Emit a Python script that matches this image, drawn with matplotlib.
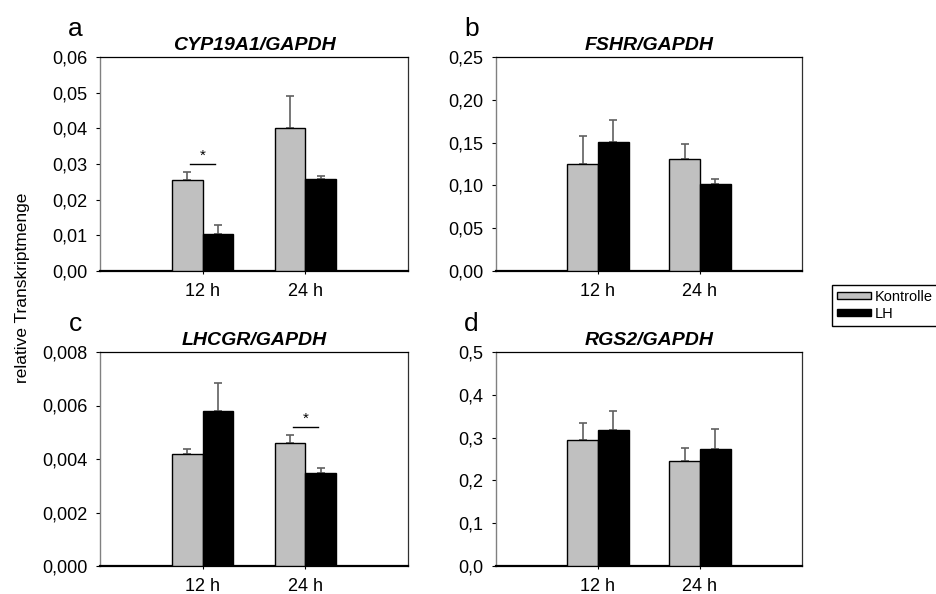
import matplotlib
matplotlib.use("Agg")
import matplotlib.pyplot as plt
import numpy as np
from matplotlib.patches import Patch

plt.rcParams["font.family"] = ["Liberation Sans", "DejaVu Sans"]

# data (means and upper error)
groups = ["12 h", "24 h"]
series = ["Kontrolle", "LH"]

cyp_ctrl = [0.0255, 0.0400]
cyp_ctrl_err = [0.0023, 0.0090]
cyp_lh = [0.0103, 0.0258]
cyp_lh_err = [0.0027, 0.0008]

fshr_ctrl = [0.125, 0.131]
fshr_ctrl_err = [0.033, 0.017]
fshr_lh = [0.151, 0.102]
fshr_lh_err = [0.025, 0.006]

lhcgr_ctrl = [0.00417, 0.00459]
lhcgr_ctrl_err = [0.00021, 0.00031]
lhcgr_lh = [0.00580, 0.00346]
lhcgr_lh_err = [0.00103, 0.00021]

rgs_ctrl = [0.294, 0.246]
rgs_ctrl_err = [0.040, 0.030]
rgs_lh = [0.318, 0.274]
rgs_lh_err = [0.043, 0.046]

panels = [
    ("a", "CYP19A1/GAPDH", cyp_ctrl, cyp_ctrl_err, cyp_lh, cyp_lh_err,
     [0.0, 0.01, 0.02, 0.03, 0.04, 0.05, 0.06],
     ["0,00", "0,01", "0,02", "0,03", "0,04", "0,05", "0,06"], (0, 0.0299)),
    ("b", "FSHR/GAPDH", fshr_ctrl, fshr_ctrl_err, fshr_lh, fshr_lh_err,
     [0.0, 0.05, 0.10, 0.15, 0.20, 0.25],
     ["0,00", "0,05", "0,10", "0,15", "0,20", "0,25"], None),
    ("c", "LHCGR/GAPDH", lhcgr_ctrl, lhcgr_ctrl_err, lhcgr_lh, lhcgr_lh_err,
     [0.0, 0.002, 0.004, 0.006, 0.008],
     ["0,000", "0,002", "0,004", "0,006", "0,008"], (1, 0.00518)),
    ("d", "RGS2/GAPDH", rgs_ctrl, rgs_ctrl_err, rgs_lh, rgs_lh_err,
     [0.0, 0.1, 0.2, 0.3, 0.4, 0.5],
     ["0,0", "0,1", "0,2", "0,3", "0,4", "0,5"], None),
]

W, H = 936, 594
fig = plt.figure(figsize=(W / 100, H / 100), dpi=100)

# axes boxes in pixels: left, top, width, height
boxes = [(100, 57, 308, 214), (496, 57, 306, 214),
         (100, 352, 308, 214), (496, 352, 306, 214)]

GREY = "#c0c0c0"
ERR = "#606060"
bw = 0.3
x = np.arange(1, len(groups) + 1)

for (letter, title, c, ce, l, le, ticks, tlabels, sig), (px, py, pw, ph) in zip(panels, boxes):
    ax = fig.add_axes([px / W, 1 - (py + ph) / H, pw / W, ph / H])
    ax.bar(x - bw / 2, c, bw, color=GREY, edgecolor="black", lw=1, zorder=3)
    ax.bar(x + bw / 2, l, bw, color="black", edgecolor="black", lw=1, zorder=3)
    ax.errorbar(x - bw / 2, c, yerr=[np.zeros(len(c)), ce], fmt="none",
                ecolor=ERR, elinewidth=1.2, capsize=3, capthick=1.2, zorder=2)
    ax.errorbar(x + bw / 2, l, yerr=[np.zeros(len(l)), le], fmt="none",
                ecolor=ERR, elinewidth=1.2, capsize=3, capthick=1.2, zorder=2)

    ax.set_xlim(0, 3)
    ax.set_ylim(ticks[0], ticks[-1])
    ax.set_yticks(ticks)
    ax.set_yticklabels(tlabels)
    ax.set_xticks(x)
    ax.set_xticklabels(groups)
    ax.tick_params(axis="y", length=3, width=0.8, pad=6, labelsize=13)
    ax.tick_params(axis="x", length=2.5, width=0.8, pad=6, labelsize=13)

    ax.spines["left"].set_color("#808080")
    ax.spines["left"].set_linewidth(1.0)
    ax.spines["bottom"].set_linewidth(1.6)
    ax.spines["top"].set_linewidth(0.9)
    ax.spines["right"].set_linewidth(0.9)
    ax.spines["right"].set_color("#303030")

    ax.set_title(title, fontsize=14, fontweight="bold", style="italic", pad=5)
    ax.text(-0.08, 1.0 + 28 / ph, letter, transform=ax.transAxes,
            fontsize=19, ha="center", va="center")

    if sig is not None:
        gi, ys = sig
        xc = x[gi]
        ax.plot([xc - 0.12, xc + 0.12], [ys, ys], color="black", lw=1)
        ax.text(xc, ys + (ticks[-1] - ticks[0]) * 0.008, "*", ha="center", va="bottom",
                fontsize=11)

fig.text(23 / W, 1 - 288 / H, "relative Transkriptmenge", rotation=90,
         ha="center", va="center", fontsize=12.5)

handles = [Patch(facecolor=GREY, edgecolor="black", lw=1, label=series[0]),
           Patch(facecolor="black", edgecolor="black", lw=1, label=series[1])]
fig.legend(handles=handles, loc="upper left", bbox_to_anchor=(832 / W, 1 - 285 / H),
           fontsize=10.5, frameon=True, fancybox=False, edgecolor="black",
           framealpha=1, handlelength=2.3, handleheight=0.35, handletextpad=0.3,
           borderpad=0.35, labelspacing=0.2, borderaxespad=0)

fig.savefig("out.png", dpi=100)
